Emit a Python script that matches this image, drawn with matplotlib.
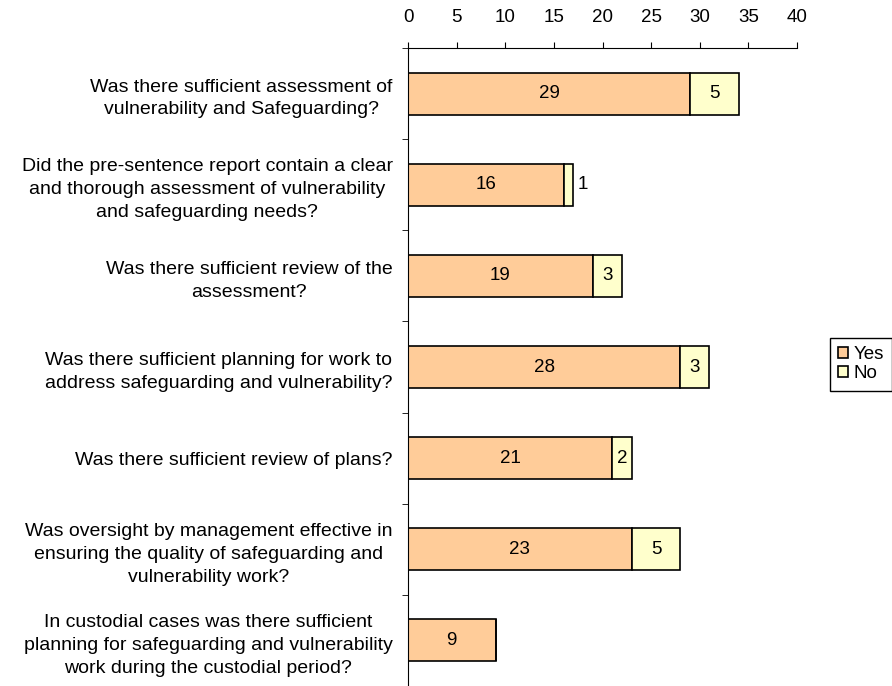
import numpy as np
import matplotlib.pyplot as plt
from matplotlib.patches import Patch

plt.rcParams['font.family'] = ['Liberation Sans', 'DejaVu Sans']

questions = [
    "Was there sufficient assessment of\nvulnerability and Safeguarding?",
    "Did the pre-sentence report contain a clear\nand thorough assessment of vulnerability\nand safeguarding needs?",
    "Was there sufficient review of the\nassessment?",
    "Was there sufficient planning for work to\naddress safeguarding and vulnerability?",
    "Was there sufficient review of plans?",
    "Was oversight by management effective in\nensuring the quality of safeguarding and\nvulnerability work?",
    "In custodial cases was there sufficient\nplanning for safeguarding and vulnerability\nwork during the custodial period?",
]
yes_counts = [29, 16, 19, 28, 21, 23, 9]
no_counts = [5, 1, 3, 3, 2, 5, 0]
series_names = ["Yes", "No"]
yes_color = "#FFCC99"
no_color = "#FFFFCC"

fig = plt.figure(figsize=(8.92, 6.86), dpi=100)
ax = fig.add_axes([408 / 892, 0.0, 389 / 892, 1 - 48 / 686])

n = len(questions)
ypos = np.arange(n)
h = 0.46
ax.barh(ypos, yes_counts, height=h, color=yes_color, edgecolor='black', linewidth=1.2)
ax.barh(ypos, no_counts, left=yes_counts, height=h, color=no_color, edgecolor='black', linewidth=1.2)

for i in range(n):
    ax.text(yes_counts[i] / 2, i, str(yes_counts[i]), ha='center', va='center', fontsize=13.5)
    if no_counts[i] > 0:
        if no_counts[i] >= 2:
            ax.text(yes_counts[i] + no_counts[i] / 2, i, str(no_counts[i]),
                    ha='center', va='center', fontsize=13.5)
        else:
            ax.text(yes_counts[i] + no_counts[i] + 0.4, i, str(no_counts[i]),
                    ha='left', va='center', fontsize=13.5)

ax.set_xlim(0, 40)
ax.set_ylim(n - 0.5, -0.5)
ax.xaxis.tick_top()
ax.set_xticks(range(0, 41, 5))
ax.tick_params(axis='x', labelsize=13.5, length=4, pad=12)

ax.set_yticks(np.arange(-0.5, n, 1), minor=True)
ax.set_yticks(ypos)
ax.set_yticklabels(questions, fontsize=14, ha='right', linespacing=1.45)
for lab in ax.get_yticklabels():
    lab.set_multialignment('center')
ax.tick_params(axis='y', which='major', length=0, pad=11)
ax.tick_params(axis='y', which='minor', length=4)

ax.spines['right'].set_visible(False)
ax.spines['bottom'].set_visible(False)

handles = [Patch(facecolor=yes_color, edgecolor='black', linewidth=1.2),
           Patch(facecolor=no_color, edgecolor='black', linewidth=1.2)]
fig.legend(handles, series_names, loc='upper left', bbox_to_anchor=(830 / 892, 1 - 338 / 686),
           frameon=True, fancybox=False, edgecolor='black', fontsize=13.5,
           handlelength=0.5, handleheight=0.5, handletextpad=0.3, borderpad=0.45,
           borderaxespad=0, labelspacing=0.1, framealpha=1)

fig.savefig('out.png', dpi=100)
